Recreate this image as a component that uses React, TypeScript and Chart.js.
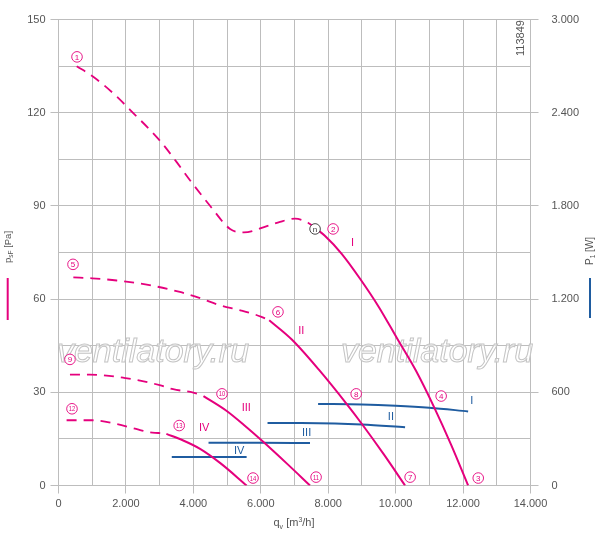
import React, { useEffect, useRef } from 'react';
import { Chart, registerables } from 'chart.js';

Chart.register(...registerables);

const PINK = '#e5007d';
const BLUE = '#1f5ca0';
const GRID = '#bdbdbd';
const TEXT = '#555555';
const FONT = '"Liberation Sans", Arial, Helvetica, sans-serif';

// Pressure curves [q_v m3/h, p Pa]
const dashI: [number, number][] = [
  [540, 135], [1030, 131.6], [1600, 126.5], [2210, 120], [3010, 111], [3500, 104.2],
  [3900, 98.3], [4500, 90], [5090, 82.6], [5500, 81.5], [6180, 83.5], [6570, 84.9],
  [7020, 85.9], [7400, 84.6], [7650, 82.6],
];
const solidI: [number, number][] = [
  [7650, 82.6], [7900, 80.4], [8400, 74.6], [8950, 66.5], [9500, 57.5], [10040, 47.4],
  [10600, 37], [11150, 25], [11650, 13], [12150, 0],
];
const dashII: [number, number][] = [
  [440, 67], [1000, 66.7], [1730, 66], [2700, 64.5], [3600, 62.3], [4200, 60.3],
  [4800, 58], [5400, 56.4], [6000, 54.4], [6250, 53.2],
];
const solidII: [number, number][] = [
  [6250, 53.2], [6920, 47], [7760, 36.8], [8550, 26.2], [9000, 19.8], [9650, 10], [10280, 0],
];
const dashIII: [number, number][] = [
  [340, 35.7], [930, 35.7], [1500, 35.3], [1920, 34.7], [2420, 33.8], [3000, 32.3],
  [3400, 31], [4000, 29.9], [4300, 28.8],
];
const solidIII: [number, number][] = [
  [4300, 28.8], [4990, 24], [5500, 19.5], [6080, 14], [6800, 6.8], [7460, 0],
];
const dashIV: [number, number][] = [
  [240, 21], [1030, 21], [1730, 19.8], [2300, 18.2], [2720, 17.1], [2960, 16.9], [3200, 16.6],
];
const solidIV: [number, number][] = [
  [3200, 16.6], [3700, 14.5], [4200, 11.8], [4800, 7.2], [5580, 0],
];

// Power curves [q_v m3/h, P W]
const powerI: [number, number][] = [[7700, 525], [9000, 522], [10000, 514], [11000, 501], [12150, 477]];
const powerII: [number, number][] = [[6200, 403], [7200, 403], [8200, 400], [9000, 393], [10280, 375]];
const powerIII: [number, number][] = [[4450, 276], [6000, 275], [7460, 273]];
const powerIV: [number, number][] = [[3360, 183], [4500, 183], [5580, 183]];

// Operating point markers (data coordinates)
const markerLabels = ['1', '2', '3', '4', '5', '6', '7', '8', '9', '10', '11', '12', '13', '14'];
const markerQ = [549, 8145, 12450, 11350, 430, 6510, 10430, 8830, 340, 4850, 7640, 400, 3580, 5770];
const markerP = [138, 82.6, 2.4, 28.8, 71.2, 55.9, 2.7, 29.5, 40.6, 29.5, 2.7, 24.7, 19.3, 2.4];
const etaMarker = { q: 7610, p: 82.6 };

const numerals = ['I', 'II', 'III', 'IV'];
const pinkNumQ = [8720, 7200, 5570, 4320];
const pinkNumP = [78.2, 49.8, 25, 18.6];
const blueNumQ = [12260, 9860, 7360, 5360];
const blueNumW = [544, 442, 336, 220];

const xMax = 14000;
const yMax = 150;
const y2Max = 3000;

const fmt = (v: number) =>
  v >= 1000 ? `${Math.floor(v / 1000)}.${String(v % 1000).padStart(3, '0')}` : String(v);

const toXY = (arr: [number, number][]) => arr.map(([x, y]) => ({ x, y }));

function drawSubText(
  ctx: CanvasRenderingContext2D,
  parts: { t: string; size: number; dy: number }[],
  startX: number,
  baseY: number
) {
  let x = startX;
  for (const p of parts) {
    ctx.font = `${p.size}px ${FONT}`;
    ctx.fillText(p.t, x, baseY + p.dy);
    x += ctx.measureText(p.t).width;
  }
  return x - startX;
}

function measureParts(ctx: CanvasRenderingContext2D, parts: { t: string; size: number; dy: number }[]) {
  let w = 0;
  for (const p of parts) {
    ctx.font = `${p.size}px ${FONT}`;
    w += ctx.measureText(p.t).width;
  }
  return w;
}

const annotPlugin = {
  id: 'annot',
  beforeDatasetsDraw(chart: any) {
    const ctx: CanvasRenderingContext2D = chart.ctx;
    ctx.save();
    ctx.font = `italic 34px ${FONT}`;
    ctx.textAlign = 'center';
    ctx.textBaseline = 'alphabetic';
    ctx.lineWidth = 1;
    ctx.strokeStyle = '#c4c4c4';
    ctx.fillStyle = 'rgba(255,255,255,0.55)';
    for (const cx of [153, 437]) {
      ctx.fillText('ventilatory.ru', cx, 362);
      ctx.strokeText('ventilatory.ru', cx, 362);
    }
    ctx.restore();
  },
  afterDatasetsDraw(chart: any) {
    const ctx: CanvasRenderingContext2D = chart.ctx;
    const xs = chart.scales.x;
    const ys = chart.scales.y;
    const y2s = chart.scales.y2;
    ctx.save();
    const circ = (px: number, py: number, label: string, color: string) => {
      ctx.beginPath();
      ctx.arc(px, py, 5.3, 0, Math.PI * 2);
      ctx.fillStyle = '#ffffff';
      ctx.fill();
      ctx.lineWidth = 0.9;
      ctx.strokeStyle = color;
      ctx.stroke();
      ctx.fillStyle = color;
      ctx.textAlign = 'center';
      ctx.textBaseline = 'middle';
      if (label.length > 1) {
        ctx.save();
        ctx.translate(px, py + 0.5);
        ctx.scale(0.78, 1);
        ctx.font = `7.5px ${FONT}`;
        ctx.fillText(label, 0, 0);
        ctx.restore();
      } else {
        ctx.font = `8px ${FONT}`;
        ctx.fillText(label, px, py + 0.5);
      }
    };
    markerLabels.forEach((lab, i) => {
      circ(xs.getPixelForValue(markerQ[i]), ys.getPixelForValue(markerP[i]), lab, PINK);
    });
    circ(xs.getPixelForValue(etaMarker.q), ys.getPixelForValue(etaMarker.p), 'n', '#333333');

    ctx.font = `11px ${FONT}`;
    ctx.textAlign = 'center';
    ctx.textBaseline = 'middle';
    numerals.forEach((n, i) => {
      ctx.fillStyle = PINK;
      ctx.fillText(n, xs.getPixelForValue(pinkNumQ[i]), ys.getPixelForValue(pinkNumP[i]));
      ctx.fillStyle = BLUE;
      ctx.fillText(n, xs.getPixelForValue(blueNumQ[i]), y2s.getPixelForValue(blueNumW[i]));
    });
    ctx.restore();
  },
  afterDraw(chart: any) {
    const ctx: CanvasRenderingContext2D = chart.ctx;
    ctx.save();
    ctx.fillStyle = TEXT;
    ctx.textBaseline = 'alphabetic';
    ctx.textAlign = 'left';

    // Left title p_sF [Pa]
    const leftParts = [
      { t: 'p', size: 9.5, dy: 0 },
      { t: 'sF', size: 6.5, dy: 2 },
      { t: ' [Pa]', size: 9.5, dy: 0 },
    ];
    ctx.save();
    ctx.translate(10.8, 263);
    ctx.rotate(-Math.PI / 2);
    drawSubText(ctx, leftParts, 0, 0);
    ctx.restore();

    // Right title P_1 [W]
    const rightParts = [
      { t: 'P', size: 10, dy: 0 },
      { t: '1', size: 6.5, dy: 2 },
      { t: ' [W]', size: 10, dy: 0 },
    ];
    ctx.save();
    ctx.translate(593, 265);
    ctx.rotate(-Math.PI / 2);
    drawSubText(ctx, rightParts, 0, 0);
    ctx.restore();

    // Bottom title q_v [m³/h]
    const botParts = [
      { t: 'q', size: 11, dy: 0 },
      { t: 'v', size: 7, dy: 2.5 },
      { t: ' [m', size: 11, dy: 0 },
      { t: '3', size: 7, dy: -4.5 },
      { t: '/h]', size: 11, dy: 0 },
    ];
    const bw = measureParts(ctx, botParts);
    drawSubText(ctx, botParts, 294 - bw / 2, 526);

    // Legend strokes
    ctx.lineWidth = 2;
    ctx.strokeStyle = PINK;
    ctx.beginPath();
    ctx.moveTo(7.7, 278);
    ctx.lineTo(7.7, 320);
    ctx.stroke();
    ctx.strokeStyle = BLUE;
    ctx.beginPath();
    ctx.moveTo(590, 278);
    ctx.lineTo(590, 318);
    ctx.stroke();

    // Chart id
    ctx.save();
    ctx.translate(520.5, 38);
    ctx.rotate(-Math.PI / 2);
    ctx.font = `11px ${FONT}`;
    ctx.textAlign = 'center';
    ctx.textBaseline = 'middle';
    ctx.fillStyle = TEXT;
    ctx.fillText('113849', 0, 0);
    ctx.restore();

    ctx.restore();
  },
};

export default function App() {
  const ref = useRef<HTMLCanvasElement | null>(null);

  useEffect(() => {
    if (!ref.current) return;
    const pinkLine = (data: [number, number][], dashed: boolean) => ({
      data: toXY(data),
      yAxisID: 'y',
      borderColor: PINK,
      borderWidth: dashed ? 1.8 : 2,
      borderDash: dashed ? [10, 7] : [],
      pointRadius: 0,
      fill: false,
      cubicInterpolationMode: 'monotone' as const,
    });
    const blueLine = (data: [number, number][]) => ({
      data: toXY(data),
      yAxisID: 'y2',
      borderColor: BLUE,
      borderWidth: 2,
      pointRadius: 0,
      fill: false,
      cubicInterpolationMode: 'monotone' as const,
    });

    const tickFont = { family: FONT, size: 11 };

    const chart = new Chart(ref.current, {
      type: 'line',
      data: {
        datasets: [
          pinkLine(dashI, true),
          pinkLine(solidI, false),
          pinkLine(dashII, true),
          pinkLine(solidII, false),
          pinkLine(dashIII, true),
          pinkLine(solidIII, false),
          pinkLine(dashIV, true),
          pinkLine(solidIV, false),
          blueLine(powerI),
          blueLine(powerII),
          blueLine(powerIII),
          blueLine(powerIV),
        ] as any,
      },
      options: {
        responsive: false,
        animation: false,
        devicePixelRatio: 1,
        layout: { padding: { top: 14.5, left: 0, right: 0, bottom: 0 } },
        plugins: {
          legend: { display: false },
          tooltip: { enabled: false },
        },
        scales: {
          x: {
            type: 'linear',
            min: 0,
            max: xMax,
            afterFit: (s: any) => {
              s.height = 49.5;
            },
            ticks: {
              stepSize: 1000,
              autoSkip: false,
              maxRotation: 0,
              padding: 4,
              color: TEXT,
              font: tickFont,
              callback: (v: any) => (Number(v) % 2000 === 0 ? fmt(Number(v)) : ''),
            },
            grid: {
              color: GRID,
              lineWidth: 1,
              tickLength: 8,
              tickColor: (c: any) => (c.tick && c.tick.value % 2000 === 0 ? GRID : 'rgba(0,0,0,0)'),
            },
            border: { display: true, color: GRID },
          },
          y: {
            type: 'linear',
            position: 'left',
            min: 0,
            max: yMax,
            afterFit: (s: any) => {
              s.width = 58.5;
            },
            ticks: {
              stepSize: 15,
              autoSkip: false,
              padding: 5,
              color: TEXT,
              font: tickFont,
              callback: (v: any) => (Number(v) % 30 === 0 ? String(v) : ''),
            },
            grid: {
              color: GRID,
              lineWidth: 1,
              tickLength: 8,
              tickColor: (c: any) => (c.tick && c.tick.value % 30 === 0 ? GRID : 'rgba(0,0,0,0)'),
            },
            border: { display: true, color: GRID },
          },
          y2: {
            type: 'linear',
            position: 'right',
            min: 0,
            max: y2Max,
            afterFit: (s: any) => {
              s.width = 69.5;
            },
            ticks: {
              stepSize: 300,
              autoSkip: false,
              padding: 13,
              color: TEXT,
              font: tickFont,
              callback: (v: any) => (Number(v) % 600 === 0 ? fmt(Number(v)) : ''),
            },
            grid: {
              drawOnChartArea: false,
              color: GRID,
              lineWidth: 1,
              tickLength: 8,
              tickColor: (c: any) => (c.tick && c.tick.value % 600 === 0 ? GRID : 'rgba(0,0,0,0)'),
            },
            border: { display: true, color: GRID },
          },
        },
      } as any,
      plugins: [annotPlugin],
    });
    return () => chart.destroy();
  }, []);

  return (
    <div style={{ position: 'absolute', left: 0, top: 0, width: 600, height: 535, background: '#fff' }}>
      <canvas ref={ref} width={600} height={535} style={{ display: 'block', width: 600, height: 535 }} />
    </div>
  );
}
